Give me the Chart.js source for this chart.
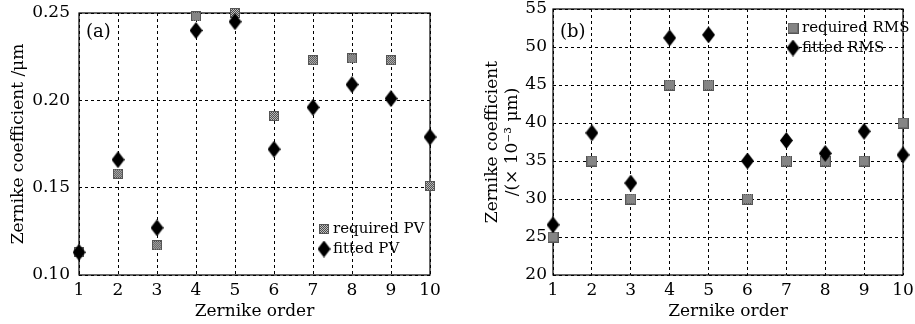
<!DOCTYPE html>
<html>
<head>
<meta charset="utf-8">
<script src="https://cdn.jsdelivr.net/npm/chart.js@4/dist/chart.umd.min.js"></script>
<style>
  body { margin: 0; background: #fff; }
  #wrap { position: relative; width: 915px; height: 324px; }
  .box { position: absolute; top: 0; height: 324px; }
</style>
</head>
<body>
<div id="wrap">
  <div class="box" style="left:0;width:440px"><canvas id="chartA"></canvas></div>
  <div class="box" style="left:460px;width:455px"><canvas id="chartB"></canvas></div>
</div>
<script>
const orders = [1, 2, 3, 4, 5, 6, 7, 8, 9, 10];
const requiredPV = [0.113, 0.158, 0.117, 0.248, 0.250, 0.191, 0.223, 0.224, 0.223, 0.151];
const fittedPV = [0.113, 0.166, 0.127, 0.240, 0.245, 0.172, 0.196, 0.209, 0.201, 0.179];
const requiredRMS = [25, 35, 30, 45, 45, 30, 35, 35, 35, 40];
const fittedRMS = [26.6, 38.7, 32.1, 51.2, 51.6, 35.0, 37.7, 36.0, 38.9, 35.8];

const FONT = 'DejaVu Serif';

// marker images
function squareMark(size) {
    const c = document.createElement('canvas');
    c.width = size; c.height = size;
    const g = c.getContext('2d');
    for (let i = 0; i < size; i++) {
        for (let j = 0; j < size; j++) {
            g.fillStyle = (i + j) % 2 ? '#4a4a4a' : '#c0c0c0';
            g.fillRect(i, j, 1, 1);
        }
    }
    g.strokeStyle = '#555';
    g.strokeRect(0.5, 0.5, size - 1, size - 1);
    return c;
}
function diamondMark(w, h) {
    const c = document.createElement('canvas');
    c.width = w; c.height = h;
    const g = c.getContext('2d');
    g.fillStyle = '#000';
    g.beginPath();
    g.moveTo(w / 2, 0); g.lineTo(w, h / 2); g.lineTo(w / 2, h); g.lineTo(0, h / 2);
    g.closePath();
    g.fill();
    return c;
}

function pts(ys) {
    return orders.map((x, i) => ({ x: x, y: ys[i] }));
}

const framePlugin = {
    id: 'frame',
    beforeDatasetsDraw(chart) {
        const { ctx, chartArea: a } = chart;
        ctx.save();
        ctx.strokeStyle = '#000';
        ctx.lineWidth = 1.2;
        ctx.strokeRect(a.left, a.top, a.right - a.left, a.bottom - a.top);
        ctx.restore();
    },
    afterDatasetsDraw(chart, args, opts) {
        const { ctx, chartArea: a } = chart;
        ctx.save();
        ctx.fillStyle = '#000';
        ctx.font = '18px "' + FONT + '"';
        ctx.textBaseline = 'middle';
        ctx.fillText(opts.tag, a.left + 7, a.top + opts.tagDy);
        ctx.font = '15px "' + FONT + '"';
        const lx = opts.fromRight ? a.right - opts.lx : a.left + opts.lx;
        const ly = opts.fromBottom ? a.bottom - opts.ly : a.top + opts.ly;
        chart.data.datasets.forEach((ds, i) => {
            const y = ly + i * 20;
            const img = ds.pointStyle;
            ctx.drawImage(img, lx - 9 - img.width / 2, y - img.height / 2);
            ctx.fillText(ds.label, lx, y);
        });
        ctx.restore();
    }
};

function makeChart(id, reqData, fitData, labels, yOpts, lay) {
    const sq = squareMark(lay.sq);
    const dm = diamondMark(13, 17);
    return new Chart(document.getElementById(id).getContext('2d'), {
        type: 'scatter',
        data: {
            datasets: [{
                label: labels[0],
                data: pts(reqData),
                pointStyle: sq,
                pointRadius: 6,
                order: 1,
                clip: false
            }, {
                label: labels[1],
                data: pts(fitData),
                pointStyle: dm,
                pointRadius: 6,
                order: 0,
                clip: false
            }]
        },
        options: {
            responsive: true,
            maintainAspectRatio: false,
            animation: false,
            layout: { padding: { top: lay.top, right: lay.right, left: 0, bottom: 0 } },
            plugins: {
                legend: { display: false },
                tooltip: { enabled: false },
                frame: lay.frame
            },
            scales: {
                x: {
                    type: 'linear',
                    min: 1, max: 10,
                    grid: { color: '#000', lineWidth: 1, drawTicks: false },
                    border: { display: false, dash: [3, 3] },
                    ticks: { stepSize: 1, padding: 5, color: '#000', font: { family: FONT, size: 17 } },
                    title: { display: true, text: 'Zernike order', color: '#000', padding: { top: 0, bottom: 2 }, font: { family: FONT, size: 17 } },
                    afterFit(s) { s.height = 49; s.paddingLeft = 0; s.paddingRight = 0; }
                },
                y: {
                    min: yOpts.min, max: yOpts.max,
                    grid: { color: '#000', lineWidth: 1, drawTicks: false },
                    border: { display: false, dash: [3, 3] },
                    ticks: {
                        stepSize: yOpts.step, padding: lay.tickPad, color: '#000',
                        font: { family: FONT, size: 17 },
                        callback: yOpts.fmt
                    },
                    title: { display: true, text: yOpts.title, color: '#000', padding: { top: lay.titlePad, bottom: 0 }, font: { family: FONT, size: 17 } },
                    afterFit(s) { s.width = lay.yw; s.paddingTop = 0; s.paddingBottom = 0; }
                }
            }
        },
        plugins: [framePlugin]
    });
}

makeChart('chartA', requiredPV, fittedPV, ['required PV', 'fitted PV'], {
    min: 0.10, max: 0.25, step: 0.05,
    fmt: v => v.toFixed(2),
    title: 'Zernike coefficient /\u03bcm'
}, {
    top: 13, right: 10, yw: 79, tickPad: 9, titlePad: 8, sq: 10,
    frame: { tag: '(a)', tagDy: 19, lx: 97, ly: 46, fromRight: true, fromBottom: true }
});

makeChart('chartB', requiredRMS, fittedRMS, ['required RMS', 'fitted RMS'], {
    min: 20, max: 55, step: 5,
    fmt: v => String(v),
    title: ['Zernike coefficient', '/(\u00d7 10\u207b\u00b3 \u03bcm)']
}, {
    top: 9, right: 12, yw: 93, tickPad: 6, titlePad: 22, sq: 11,
    frame: { tag: '(b)', tagDy: 23, lx: 101, ly: 19, fromRight: true, fromBottom: false }
});
</script>
</body>
</html>
